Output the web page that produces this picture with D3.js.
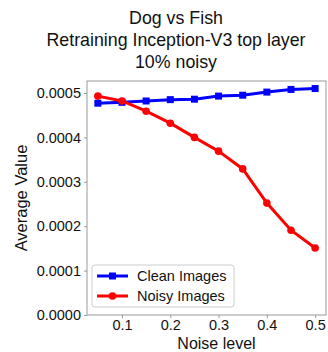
<!DOCTYPE html>
<html>
<head>
<meta charset="utf-8">
<script src="https://cdn.jsdelivr.net/npm/d3@7"></script>
<style>
body { margin: 0; background: #fff; }
text { font-family: "Liberation Sans", Arial, sans-serif; fill: #111; }
</style>
</head>
<body>
<div id="chart"></div>
<script>
var noiseLevels = [0.05, 0.1, 0.15, 0.2, 0.25, 0.3, 0.35, 0.4, 0.45, 0.5];
var cleanValues = [0.000477, 0.000479, 0.000482, 0.000485, 0.000486, 0.000493, 0.000495, 0.000502, 0.000508, 0.000510];
var noisyValues = [0.000493, 0.000482, 0.000459, 0.000432, 0.000400, 0.000369, 0.000329, 0.000252, 0.000191, 0.000151];
var xTicks = [0.1, 0.2, 0.3, 0.4, 0.5];
var yTicks = [0, 0.0001, 0.0002, 0.0003, 0.0004, 0.0005];
var titleLines = ["Dog vs Fish", "Retraining Inception-V3 top layer", "10% noisy"];
var seriesNames = ["Clean Images", "Noisy Images"];

var width = 328, height = 352;
var pLeft = 87, pRight = 326, pTop = 81, pBottom = 315;

var svg = d3.select("#chart").append("svg")
    .attr("width", width)
    .attr("height", height);

var x = d3.scaleLinear().domain([0.0275, 0.5225]).range([pLeft, pRight]);
var y = d3.scaleLinear().domain([0, 0.000527]).range([pBottom, pTop]);

// title
svg.selectAll("text.title")
    .data(titleLines)
    .enter()
    .append("text")
    .attr("class", "title")
    .attr("x", 176)
    .attr("y", function(d, i) { return 24 + i * 22; })
    .attr("text-anchor", "middle")
    .attr("font-size", 17.8)
    .text(function(d) { return d; });

// frame
svg.append("rect")
    .attr("x", pLeft)
    .attr("y", pTop)
    .attr("width", pRight - pLeft)
    .attr("height", pBottom - pTop)
    .attr("fill", "none")
    .attr("stroke", "#999")
    .attr("stroke-width", 1);

// axes
var xAxis = svg.append("g")
    .attr("transform", "translate(0," + pBottom + ")")
    .call(d3.axisBottom(x).tickValues(xTicks).tickFormat(d3.format(".1f")).tickSize(3).tickPadding(2));
var yAxis = svg.append("g")
    .attr("transform", "translate(" + pLeft + ",0)")
    .call(d3.axisLeft(y).tickValues(yTicks).tickFormat(d3.format(".4f")).tickSize(3).tickPadding(3));
[xAxis, yAxis].forEach(function(a) {
    a.select(".domain").remove();
    a.selectAll(".tick line").attr("stroke", "#999");
    a.selectAll(".tick text")
        .attr("font-size", 14.5)
        .attr("font-family", "Liberation Sans, Arial, sans-serif")
        .attr("fill", "#111");
});

svg.append("text")
    .attr("x", (pLeft + pRight) / 2 + 10)
    .attr("y", 349)
    .attr("text-anchor", "middle")
    .attr("font-size", 16)
    .text("Noise level");

svg.append("text")
    .attr("transform", "translate(27," + ((pTop + pBottom) / 2) + ") rotate(-90)")
    .attr("text-anchor", "middle")
    .attr("font-size", 16.5)
    .text("Average Value");

// lines
var line = d3.line()
    .x(function(d) { return x(d[0]); })
    .y(function(d) { return y(d[1]); });

var clean = d3.zip(noiseLevels, cleanValues);
var noisy = d3.zip(noiseLevels, noisyValues);

svg.append("path")
    .datum(clean)
    .attr("d", line)
    .attr("fill", "none")
    .attr("stroke", "#0000ff")
    .attr("stroke-width", 3);
svg.selectAll("rect.clean")
    .data(clean)
    .enter()
    .append("rect")
    .attr("class", "clean")
    .attr("x", function(d) { return x(d[0]) - 3.5; })
    .attr("y", function(d) { return y(d[1]) - 3.5; })
    .attr("width", 7)
    .attr("height", 7)
    .attr("fill", "#0000ff");

svg.append("path")
    .datum(noisy)
    .attr("d", line)
    .attr("fill", "none")
    .attr("stroke", "#ff0000")
    .attr("stroke-width", 3);
svg.selectAll("circle.noisy")
    .data(noisy)
    .enter()
    .append("circle")
    .attr("class", "noisy")
    .attr("cx", function(d) { return x(d[0]); })
    .attr("cy", function(d) { return y(d[1]); })
    .attr("r", 3.8)
    .attr("fill", "#ff0000");

// legend
var lg = svg.append("g");
lg.append("rect")
    .attr("x", 92)
    .attr("y", 265)
    .attr("width", 142)
    .attr("height", 42)
    .attr("rx", 3)
    .attr("fill", "#fff")
    .attr("fill-opacity", 0.8)
    .attr("stroke", "#ccc");
var colors = ["#0000ff", "#ff0000"];
seriesNames.forEach(function(name, i) {
    var yy = 276 + i * 20;
    lg.append("line")
        .attr("x1", 97).attr("x2", 128)
        .attr("y1", yy).attr("y2", yy)
        .attr("stroke", colors[i])
        .attr("stroke-width", 3);
    if (i == 0) {
        lg.append("rect")
            .attr("x", 109).attr("y", yy - 3.5)
            .attr("width", 7).attr("height", 7)
            .attr("fill", colors[i]);
    } else {
        lg.append("circle")
            .attr("cx", 112.5).attr("cy", yy)
            .attr("r", 3.8)
            .attr("fill", colors[i]);
    }
    lg.append("text")
        .attr("x", 137)
        .attr("y", yy + 5)
        .attr("font-size", 14.5)
        .text(name);
});
</script>
</body>
</html>
